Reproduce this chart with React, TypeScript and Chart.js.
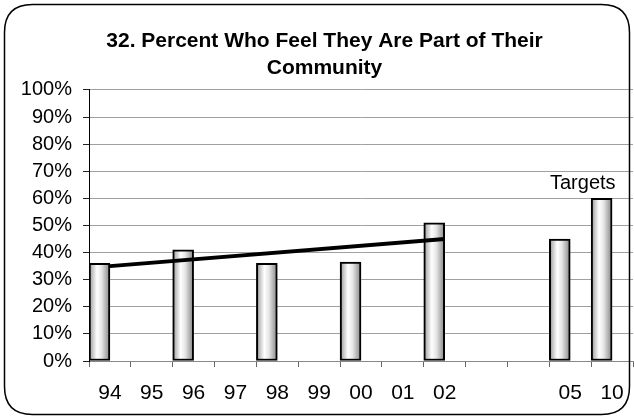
import React, { useEffect, useRef } from "react";
import { Chart, registerables } from "chart.js";

Chart.register(...registerables);

const categories = ["94", "95", "96", "97", "98", "99", "00", "01", "02", "", "", "05", "10"];
const percentValues = [36, null, 41, null, 36, null, 36.5, null, 51, null, null, 45, 60];
const trendValues = [35, null, null, null, null, null, null, null, 45, null, null, null, null];
const emptyValues = categories.map(() => null);
const titleLines = ["32. Percent Who Feel They Are Part of Their", "Community"];
const targetsLabel = "Targets";

const FONT = "'Liberation Sans', Arial, sans-serif";

const framePlugin = {
  id: "frame",
  beforeDraw(chart: any) {
    const ctx = chart.ctx;
    ctx.save();
    ctx.fillStyle = "#ffffff";
    ctx.fillRect(0, 0, chart.width, chart.height);
    ctx.restore();
  },
  afterDraw(chart: any) {
    const ctx = chart.ctx;
    ctx.save();
    const x = 4.5, y = 4.5, w = chart.width - 9, h = chart.height - 9, r = 28;
    ctx.beginPath();
    ctx.moveTo(x + r, y);
    ctx.lineTo(x + w - r, y);
    ctx.quadraticCurveTo(x + w, y, x + w, y + r);
    ctx.lineTo(x + w, y + h - r);
    ctx.quadraticCurveTo(x + w, y + h, x + w - r, y + h);
    ctx.lineTo(x + r, y + h);
    ctx.quadraticCurveTo(x, y + h, x, y + h - r);
    ctx.lineTo(x, y + r);
    ctx.quadraticCurveTo(x, y, x + r, y);
    ctx.closePath();
    ctx.lineWidth = 1.5;
    ctx.strokeStyle = "#000";
    ctx.stroke();
    // Targets label above the 10 bar
    const xs = chart.scales.x;
    const ys = chart.scales.y;
    const idx = categories.length - 1;
    const step = xs.width / categories.length;
    const cx = xs.getPixelForValue(idx) - step * 0.7;
    const cy = ys.getPixelForValue(percentValues[idx] as number) - 15;
    ctx.font = `20px ${FONT}`;
    ctx.fillStyle = "#000";
    ctx.textAlign = "center";
    ctx.textBaseline = "middle";
    ctx.fillText(targetsLabel, cx, cy);
    ctx.restore();
  },
};

function barGradient(context: any) {
  const chart = context.chart;
  if (!chart.chartArea) return "#ccc";
  const xs = chart.scales.x;
  const step = xs.width / categories.length;
  const left = xs.getPixelForValue(context.dataIndex) - step / 2;
  const right = left + step / 2;
  const g = chart.ctx.createLinearGradient(left, 0, right, 0);
  g.addColorStop(0, "#6e6e6e");
  g.addColorStop(0.12, "#b8b8b8");
  g.addColorStop(0.38, "#ffffff");
  g.addColorStop(0.6, "#e6e6e6");
  g.addColorStop(0.85, "#a8a8a8");
  g.addColorStop(1, "#8c8c8c");
  return g;
}

export default function App() {
  const ref = useRef<HTMLCanvasElement>(null);
  useEffect(() => {
    document.body.style.margin = "0";
    if (!ref.current) return;
    const chart = new Chart(ref.current, {
      type: "bar",
      data: {
        labels: categories,
        datasets: [
          {
            type: "line",
            label: "Trend",
            data: trendValues,
            borderColor: "#000",
            borderWidth: 4,
            pointRadius: 0,
            spanGaps: true,
            order: 0,
          } as any,
          {
            label: "Percent",
            data: percentValues,
            backgroundColor: barGradient,
            borderColor: "#000",
            borderWidth: 2,
            borderSkipped: false,
            barPercentage: 1,
            categoryPercentage: 1,
            order: 1,
          },
          {
            label: "Spacer",
            data: emptyValues,
            backgroundColor: "transparent",
            barPercentage: 1,
            categoryPercentage: 1,
            order: 2,
          },
        ],
      },
      plugins: [framePlugin],
      options: {
        responsive: false,
        animation: false,
        layout: { padding: { left: 16, right: 1, top: 0, bottom: 0 } },
        plugins: {
          legend: { display: false },
          tooltip: { enabled: false },
          title: {
            display: true,
            text: titleLines,
            color: "#000",
            font: { family: FONT, size: 21, weight: "bold", lineHeight: 1.32 },
            padding: { top: 27, bottom: 7.5 },
          },
        },
        scales: {
          x: {
            afterFit(scale: any) {
              scale.height = 58;
              scale.paddingLeft = 0;
              scale.paddingRight = 0;
            },
            grid: {
              drawOnChartArea: false,
              drawTicks: true,
              tickLength: 6,
              offset: true,
              color: "#666",
            },
            border: { color: "#888", width: 1 },
            ticks: {
              color: "#000",
              font: { family: FONT, size: 21 },
              padding: 14,
              maxRotation: 0,
              autoSkip: false,
            },
          },
          y: {
            min: 0,
            max: 100,
            afterFit(scale: any) {
              scale.width = 73;
            },
            grid: {
              color: "#a0a0a0",
              tickColor: "#222",
              tickLength: 6,
            },
            border: { color: "#000", width: 1 },
            ticks: {
              stepSize: 10,
              color: "#000",
              font: { family: FONT, size: 20 },
              padding: 11,
              callback: (v: any) => `${v}%`,
            },
          },
        },
      },
    });
    return () => chart.destroy();
  }, []);
  return (
    <div style={{ width: 634, height: 419 }}>
      <canvas ref={ref} width={634} height={419} />
    </div>
  );
}
